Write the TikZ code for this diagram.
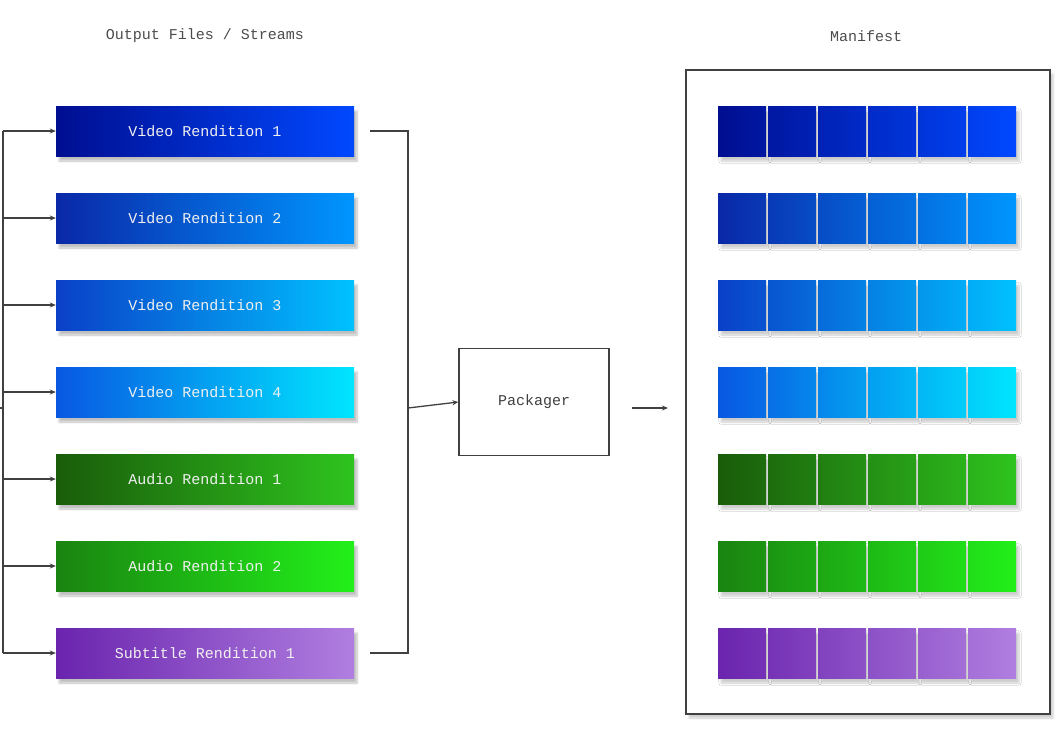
\documentclass[tikz,border=0pt]{standalone}
\usepackage{fontspec}
\setmainfont{Liberation Mono}
\usetikzlibrary{shadows.blur,arrows.meta}
\definecolor{La}{HTML}{000E90}\definecolor{Ra}{HTML}{0048FF}
\definecolor{Lb}{HTML}{0A28A8}\definecolor{Rb}{HTML}{0096FF}
\definecolor{Lc}{HTML}{0A40C8}\definecolor{Rc}{HTML}{00C2FF}
\definecolor{Ld}{HTML}{0858E2}\definecolor{Rd}{HTML}{00E6FF}
\definecolor{Le}{HTML}{1A5C0A}\definecolor{Re}{HTML}{2EC41E}
\definecolor{Lf}{HTML}{1A8410}\definecolor{Rf}{HTML}{22F01A}
\definecolor{Lg}{HTML}{6A24AE}\definecolor{Rg}{HTML}{B07EE0}
\tikzset{
 rend/.style={minimum width=298pt,minimum height=50pt,inner sep=0,text=white!88!gray,font=\fontsize{15}{15}\selectfont,blur shadow={shadow xshift=3pt,shadow yshift=-5pt,shadow blur steps=6,shadow opacity=25}},
 conn/.style={draw=black!75,line width=1.3pt},
 arr/.style={conn,-{Stealth[length=6pt,width=5pt]}},
 ttl/.style={text=black!70,font=\fontsize{15}{15}\selectfont}
}
\begin{document}
\begin{tikzpicture}[x=1pt,y=-1pt]
\useasboundingbox (0,0) rectangle (1064,737);
\node[ttl] (t1) at (205,36) {Output Files / Streams};
\node[ttl] (t2) at (866,36) {Manifest};
\node[draw=black!75,line width=1.3pt,fill=white,minimum width=364pt,minimum height=644pt,blur shadow={shadow xshift=3pt,shadow yshift=-4pt,shadow opacity=20}] (man) at (868,392) {};
\foreach \c/\t [count=\i] in {a/Video Rendition 1,b/Video Rendition 2,c/Video Rendition 3,d/Video Rendition 4,e/Audio Rendition 1,f/Audio Rendition 2,g/Subtitle Rendition 1}{
  \pgfmathsetmacro\yy{131+87*(\i-1)}
  \node[rend,left color=L\c,right color=R\c] (r\i) at (205,\yy) {\t};
  \coordinate (in\i) at (3,\yy);
  \draw[arr] (in\i) -- (r\i.west);
  \foreach \k in {0,...,5}{
    \pgfmathtruncatemacro\pa{100*\k/6}
    \pgfmathtruncatemacro\pb{100*(\k+1)/6}
    \node[minimum width=48pt,minimum height=50pt,inner sep=0,left color=R\c!\pa!L\c,right color=R\c!\pb!L\c,blur shadow={shadow xshift=3pt,shadow yshift=-5pt,shadow blur steps=6,shadow opacity=20}] (m\i-\k) at ({742+50*\k},\yy) {};
  }
}
\coordinate (lt) at (3,131); \coordinate (lb) at (3,653);
\draw[conn] (lt) -- (lb);
\coordinate (ls) at (0,408); \draw[conn] (ls) -- (3,408);
\coordinate (rt) at (408,131); \coordinate (rb) at (408,653); \coordinate (rm) at (408,408);
\draw[conn] (370,131) -- (rt) -- (rb) -- (370,653);
\node[draw=black!75,line width=1.3pt,fill=white,minimum width=150pt,minimum height=107pt,font=\fontsize{15}{15}\selectfont,text=black!75] (pk) at (534,402) {Packager};
\draw[arr] (rm) -- (pk.west);
\coordinate (pa) at (632,408); \coordinate (pb) at (668,408);
\draw[arr] (pa) -- (pb);
\end{tikzpicture}
\end{document}
